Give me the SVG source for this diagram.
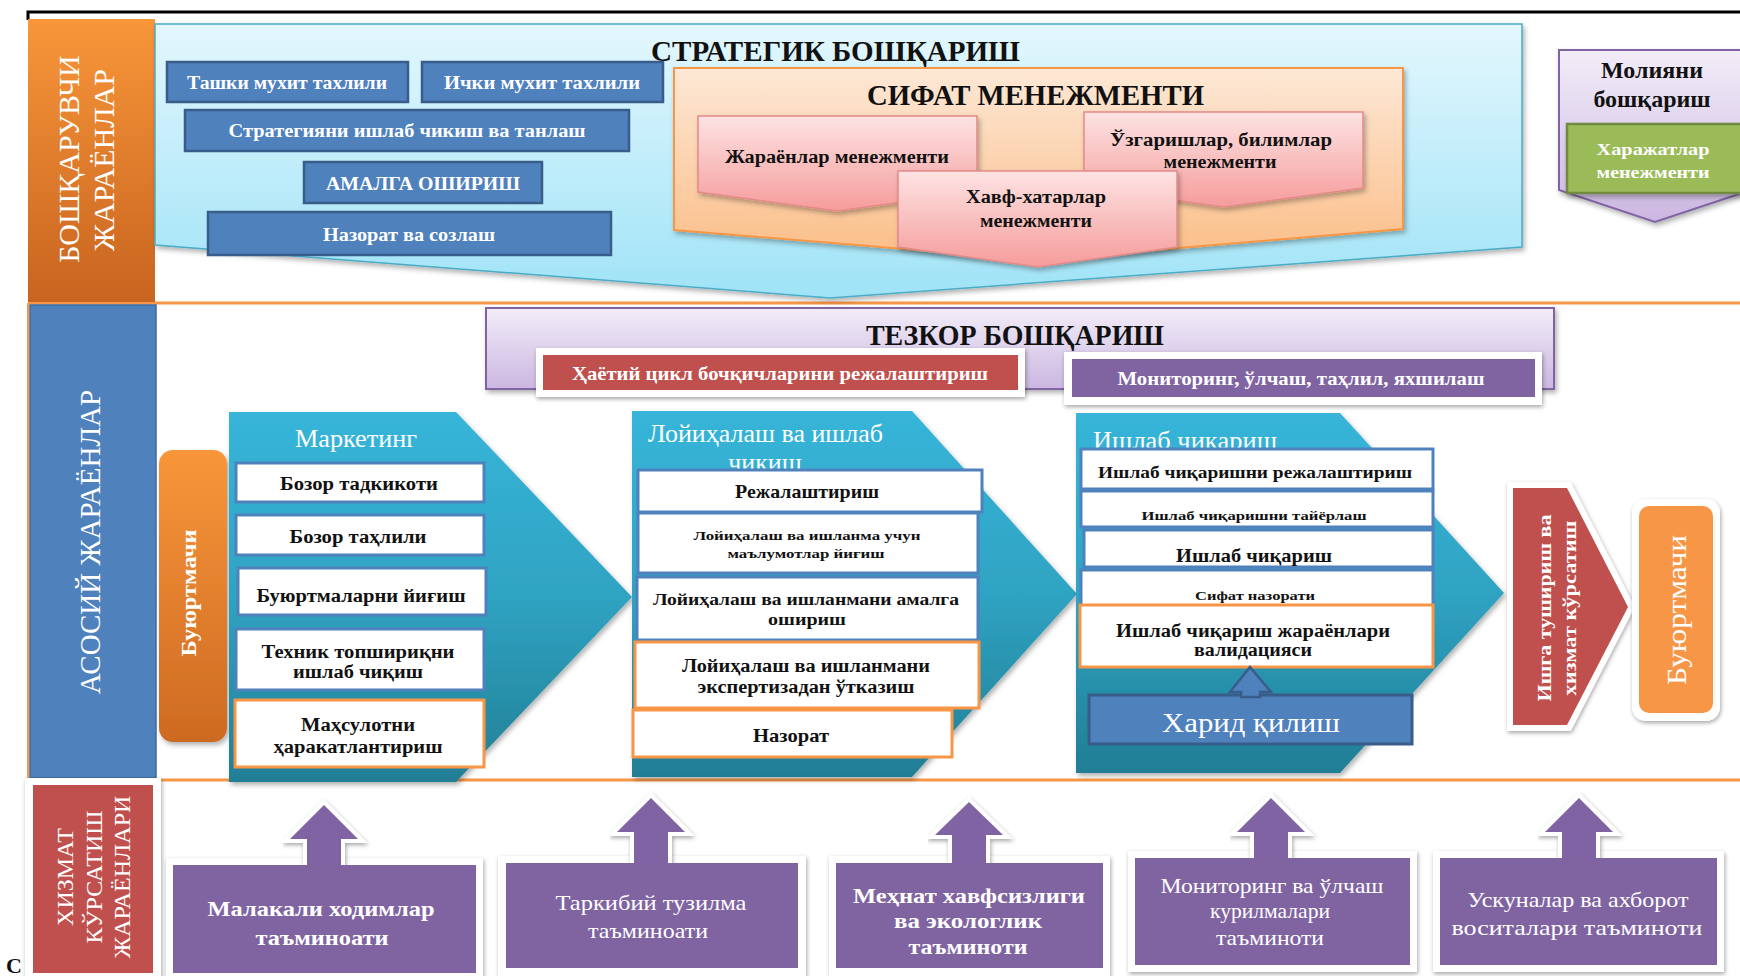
<svg xmlns="http://www.w3.org/2000/svg" width="1740" height="976" viewBox="0 0 1740 976">
  <defs>
    <linearGradient id="gCyan" x1="0" y1="0" x2="0" y2="1">
      <stop offset="0" stop-color="#e4f7fd"/>
      <stop offset="1" stop-color="#9fe3f7"/>
    </linearGradient>
    <linearGradient id="gSifat" x1="0" y1="0" x2="0" y2="1">
      <stop offset="0" stop-color="#fde8d6"/>
      <stop offset="1" stop-color="#fbbd87"/>
    </linearGradient>
    <linearGradient id="gPink" x1="0" y1="0" x2="0" y2="1">
      <stop offset="0" stop-color="#fde3e3"/>
      <stop offset="1" stop-color="#f59c9b"/>
    </linearGradient>
    <linearGradient id="gTeal" x1="0" y1="0" x2="0" y2="1">
      <stop offset="0" stop-color="#37b5d9"/>
      <stop offset="0.5" stop-color="#2fa3c2"/>
      <stop offset="1" stop-color="#227e95"/>
    </linearGradient>
    <linearGradient id="gLav" x1="0" y1="0" x2="0" y2="1">
      <stop offset="0" stop-color="#f2edf8"/>
      <stop offset="1" stop-color="#cbb6e1"/>
    </linearGradient>
    <linearGradient id="gOrBand" x1="0" y1="0" x2="0" y2="1">
      <stop offset="0" stop-color="#f8963a"/>
      <stop offset="1" stop-color="#c8641f"/>
    </linearGradient>
    <linearGradient id="gBuy" x1="0" y1="0" x2="0" y2="1">
      <stop offset="0" stop-color="#f8963a"/>
      <stop offset="1" stop-color="#cd6a22"/>
    </linearGradient>
    <filter id="sh" x="-10%" y="-10%" width="130%" height="140%">
      <feDropShadow dx="2" dy="3" stdDeviation="2.5" flood-color="#000" flood-opacity="0.3"/>
    </filter>
    <filter id="glow" x="-10%" y="-10%" width="130%" height="140%">
      <feDropShadow dx="1" dy="2" stdDeviation="2" flood-color="#000" flood-opacity="0.35"/>
    </filter>
  </defs>
  <style>
    text { font-family: "Liberation Serif", "Times New Roman", "DejaVu Serif", serif; }
    .b { font-weight: bold; }
    .w { fill: #ffffff; }
    .k { fill: #111111; }
    .c { text-anchor: middle; }
    .bluebox { fill: #4f81bd; stroke: #385d8a; stroke-width: 2.5; }
    .wbox { fill: #ffffff; stroke: #4f81bd; stroke-width: 3; }
    .obox { fill: #ffffff; stroke: #f79646; stroke-width: 3; }
    .pink { fill: url(#gPink); stroke: #e28a88; stroke-width: 1.5; }
    .teal { fill: url(#gTeal); }
    .purple { fill: #8064a2; }
    .frame { fill: #ffffff; }
    .sep { stroke: #f79646; stroke-width: 3; fill: none; }
    .up { fill: #8064a2; stroke: #ffffff; stroke-width: 8; stroke-linejoin: miter; paint-order: stroke; }
  </style>

  <rect x="0" y="0" width="1740" height="976" fill="#ffffff"/>

  <!-- outer frame lines -->
  <g id="frame-lines">
    <path d="M28,20 V12 H1740" fill="none" stroke="#000" stroke-width="3"/>
    <path class="sep" d="M28,303 H1740"/>
    <path class="sep" d="M28,780 H1740"/>
    <path d="M28,303 V780" stroke="#f79646" stroke-width="2" fill="none"/>
  </g>

  <!-- left column: process group labels -->
  <g id="band-management">
    <rect x="28" y="19" width="127" height="283" fill="url(#gOrBand)"/>
    <text class="w c" font-size="30" transform="translate(79,159) rotate(-90)">БОШҚАРУВЧИ</text>
    <text class="w c" font-size="30" transform="translate(114,160) rotate(-90)">ЖАРАЁНЛАР</text>
  </g>
  <g id="band-core">
    <rect x="30" y="305" width="126" height="473" fill="#4f81bd" stroke="#3c6aa0" stroke-width="1.5"/>
    <text class="w c" font-size="29" transform="translate(100,542) rotate(-90)">АСОСИЙ ЖАРАЁНЛАР</text>
  </g>
  <g id="band-service">
    <rect class="frame" x="25" y="778" width="136" height="204" filter="url(#glow)"/>
    <rect x="33" y="785" width="120" height="188" fill="#c0504d"/>
    <text class="w c" font-size="24" transform="translate(73,877) rotate(-90)">ХИЗМАТ</text>
    <text class="w c" font-size="24" transform="translate(102,877) rotate(-90)">КЎРСАТИШ</text>
    <text class="w c" font-size="24" transform="translate(130,877) rotate(-90)">ЖАРАЁНЛАРИ</text>
  </g>

  <!-- strategic management -->
  <g id="strategic">
    <polygon points="155,24 1522,24 1522,247 830,298 155,245" fill="url(#gCyan)" stroke="#4bacc6" stroke-width="1.5" filter="url(#sh)"/>
    <text class="b k" x="651" y="61" font-size="29" textLength="369" lengthAdjust="spacingAndGlyphs">СТРАТЕГИК  БОШҚАРИШ</text>
  </g>
  <g id="external-analysis">
    <rect class="bluebox" x="167" y="62" width="241" height="40"/>
    <text class="b w c" x="287" y="89" font-size="18" textLength="200" lengthAdjust="spacingAndGlyphs">Ташки мухит тахлили</text>
  </g>
  <g id="internal-analysis">
    <rect class="bluebox" x="422" y="62" width="241" height="40"/>
    <text class="b w c" x="542" y="89" font-size="18" textLength="196" lengthAdjust="spacingAndGlyphs">Ички мухит тахлили</text>
  </g>
  <g id="strategy-choice">
    <rect class="bluebox" x="185" y="110" width="444" height="41"/>
    <text class="b w c" x="407" y="137" font-size="19" textLength="357" lengthAdjust="spacingAndGlyphs">Стратегияни ишлаб чикиш ва танлаш</text>
  </g>
  <g id="implementation">
    <rect class="bluebox" x="304" y="162" width="238" height="41"/>
    <text class="b w c" x="423" y="190" font-size="19" textLength="194" lengthAdjust="spacingAndGlyphs">АМАЛГА ОШИРИШ</text>
  </g>
  <g id="control-adjust">
    <rect class="bluebox" x="208" y="212" width="403" height="43"/>
    <text class="b w c" x="409" y="241" font-size="19" textLength="172" lengthAdjust="spacingAndGlyphs">Назорат ва созлаш</text>
  </g>

  <!-- quality management -->
  <g id="quality">
    <polygon points="674,68 1403,68 1403,229 1038,260 674,230" fill="url(#gSifat)" stroke="#f79646" stroke-width="2" filter="url(#sh)"/>
    <text class="b k" x="867" y="105" font-size="29" textLength="337" lengthAdjust="spacingAndGlyphs">СИФАТ  МЕНЕЖМЕНТИ</text>
  </g>
  <g id="process-mgmt">
    <polygon class="pink" points="698,116 977,116 977,192 837,211 698,192" filter="url(#sh)"/>
    <text class="b k c" x="837" y="163" font-size="18" textLength="224" lengthAdjust="spacingAndGlyphs">Жараёнлар менежменти</text>
  </g>
  <g id="change-mgmt">
    <polygon class="pink" points="1084,112 1363,112 1363,188 1224,207 1084,188" filter="url(#sh)"/>
    <text class="b k c" x="1221" y="146" font-size="18" textLength="222" lengthAdjust="spacingAndGlyphs">Ўзгаришлар, билимлар</text>
    <text class="b k c" x="1220" y="168" font-size="18" textLength="113" lengthAdjust="spacingAndGlyphs">менежменти</text>
  </g>
  <g id="risk-mgmt">
    <polygon class="pink" points="898,171 1177,171 1177,247 1038,267 898,247" filter="url(#sh)"/>
    <text class="b k c" x="1036" y="203" font-size="18" textLength="140" lengthAdjust="spacingAndGlyphs">Хавф-хатарлар</text>
    <text class="b k c" x="1036" y="227" font-size="18" textLength="112" lengthAdjust="spacingAndGlyphs">менежменти</text>
  </g>

  <!-- finance management -->
  <g id="finance">
    <polygon points="1559,50 1751,50 1751,190 1655,222 1559,190" fill="url(#gLav)" stroke="#8064a2" stroke-width="2" filter="url(#sh)"/>
    <text class="b k c" x="1652" y="78" font-size="24">Молияни</text>
    <text class="b k c" x="1652" y="107" font-size="24">бошқариш</text>
  </g>
  <g id="cost-mgmt">
    <rect x="1567" y="124" width="185" height="69" fill="#9bbb59" stroke="#71893f" stroke-width="2.5" filter="url(#sh)"/>
    <text class="b w c" x="1653" y="155" font-size="17" textLength="113" lengthAdjust="spacingAndGlyphs">Харажатлар</text>
    <text class="b w c" x="1653" y="178" font-size="17" textLength="113" lengthAdjust="spacingAndGlyphs">менежменти</text>
  </g>

  <!-- operational management -->
  <g id="operational">
    <rect x="486" y="308" width="1068" height="81" fill="url(#gLav)" stroke="#8064a2" stroke-width="2" filter="url(#sh)"/>
    <text class="b k" x="866" y="345" font-size="29" textLength="298" lengthAdjust="spacingAndGlyphs">ТЕЗКОР  БОШҚАРИШ</text>
  </g>
  <g id="lifecycle-planning">
    <rect class="frame" x="536" y="348" width="489" height="49" filter="url(#glow)"/>
    <rect x="543" y="355" width="475" height="35" fill="#c0504d"/>
    <text class="b w c" x="780" y="380" font-size="19" textLength="416" lengthAdjust="spacingAndGlyphs">Ҳаётий цикл бочқичларини режалаштириш</text>
  </g>
  <g id="monitoring">
    <rect class="frame" x="1064" y="352" width="478" height="53" filter="url(#glow)"/>
    <rect x="1072" y="359" width="463" height="38" fill="#8064a2"/>
    <text class="b w c" x="1301" y="385" font-size="19" textLength="367" lengthAdjust="spacingAndGlyphs">Мониторинг, ўлчаш, таҳлил, яхшилаш</text>
  </g>

  <!-- customer (input) -->
  <g id="customer-in">
    <rect x="159" y="450" width="68" height="292" rx="14" fill="url(#gBuy)" filter="url(#sh)"/>
    <text class="b w c" font-size="22" textLength="127" lengthAdjust="spacingAndGlyphs" transform="translate(196,593) rotate(-90)">Буюртмачи</text>
  </g>

  <!-- marketing -->
  <g id="marketing">
    <polygon class="teal" points="229,412 456,412 632,597 456,782 229,782" filter="url(#sh)"/>
    <text class="w c" x="356" y="447" font-size="25" textLength="122" lengthAdjust="spacingAndGlyphs">Маркетинг</text>
    <rect class="wbox" x="236" y="463" width="248" height="39"/>
    <text class="b k c" x="359" y="490" font-size="18" textLength="158" lengthAdjust="spacingAndGlyphs">Бозор тадкикоти</text>
    <rect class="wbox" x="236" y="515" width="248" height="40"/>
    <text class="b k c" x="358" y="543" font-size="18" textLength="137" lengthAdjust="spacingAndGlyphs">Бозор таҳлили</text>
    <rect class="wbox" x="238" y="568" width="248" height="47"/>
    <text class="b k c" x="361" y="602" font-size="18" textLength="209" lengthAdjust="spacingAndGlyphs">Буюртмаларни йиғиш</text>
    <rect class="wbox" x="236" y="629" width="248" height="61"/>
    <text class="b k c" x="358" y="658" font-size="18" textLength="193" lengthAdjust="spacingAndGlyphs">Техник топшириқни</text>
    <text class="b k c" x="358" y="678" font-size="18" textLength="130" lengthAdjust="spacingAndGlyphs">ишлаб чиқиш</text>
    <rect class="obox" x="235" y="700" width="249" height="67"/>
    <text class="b k c" x="358" y="731" font-size="18" textLength="114" lengthAdjust="spacingAndGlyphs">Маҳсулотни</text>
    <text class="b k c" x="358" y="753" font-size="18" textLength="169" lengthAdjust="spacingAndGlyphs">ҳаракатлантириш</text>
  </g>

  <!-- design and development -->
  <g id="design">
    <polygon class="teal" points="632,411 912,411 1077,594 912,777 632,777" filter="url(#sh)"/>
    <text class="w" x="648" y="442" font-size="26" textLength="235" lengthAdjust="spacingAndGlyphs">Лойиҳалаш ва ишлаб</text>
    <text class="w c" x="765" y="471" font-size="26">чиқиш</text>
    <rect class="wbox" x="638" y="470" width="344" height="42"/>
    <text class="b k c" x="807" y="498" font-size="19" textLength="144" lengthAdjust="spacingAndGlyphs">Режалаштириш</text>
    <rect class="wbox" x="638" y="513" width="340" height="60"/>
    <text class="b k c" x="807" y="540" font-size="13" textLength="227" lengthAdjust="spacingAndGlyphs">Лойиҳалаш ва ишланма учун</text>
    <text class="b k c" x="806" y="558" font-size="13" textLength="157" lengthAdjust="spacingAndGlyphs">маълумотлар  йиғиш</text>
    <rect class="wbox" x="637" y="577" width="341" height="63"/>
    <text class="b k c" x="806" y="605" font-size="17" textLength="306" lengthAdjust="spacingAndGlyphs">Лойиҳалаш ва ишланмани амалга</text>
    <text class="b k c" x="807" y="625" font-size="17" textLength="78" lengthAdjust="spacingAndGlyphs">ошириш</text>
    <rect class="obox" x="635" y="642" width="344" height="66"/>
    <text class="b k c" x="806" y="672" font-size="18" textLength="248" lengthAdjust="spacingAndGlyphs">Лойиҳалаш ва ишланмани</text>
    <text class="b k c" x="806" y="693" font-size="18" textLength="217" lengthAdjust="spacingAndGlyphs">экспертизадан ўтказиш</text>
    <rect class="obox" x="633" y="710" width="319" height="47"/>
    <text class="b k c" x="791" y="742" font-size="19" textLength="76" lengthAdjust="spacingAndGlyphs">Назорат</text>
  </g>

  <!-- production -->
  <g id="production">
    <polygon class="teal" points="1076,413 1340,413 1504,593 1340,773 1076,773" filter="url(#sh)"/>
    <text class="w" x="1093" y="449" font-size="25" textLength="184" lengthAdjust="spacingAndGlyphs">Ишлаб чиқариш</text>
    <rect class="wbox" x="1081" y="449" width="352" height="40"/>
    <text class="b k c" x="1255" y="478" font-size="17" textLength="314" lengthAdjust="spacingAndGlyphs">Ишлаб чиқаришни режалаштириш</text>
    <rect class="wbox" x="1081" y="491" width="352" height="36"/>
    <text class="b k c" x="1254" y="520" font-size="13" textLength="225" lengthAdjust="spacingAndGlyphs">Ишлаб чиқаришни тайёрлаш</text>
    <rect class="wbox" x="1084" y="530" width="349" height="37"/>
    <text class="b k c" x="1254" y="562" font-size="19" textLength="156" lengthAdjust="spacingAndGlyphs">Ишлаб чиқариш</text>
    <rect class="wbox" x="1081" y="570" width="352" height="36"/>
    <text class="b k c" x="1255" y="600" font-size="13" textLength="120" lengthAdjust="spacingAndGlyphs">Сифат назорати</text>
    <rect class="obox" x="1080" y="605" width="353" height="62"/>
    <text class="b k c" x="1253" y="637" font-size="18" textLength="274" lengthAdjust="spacingAndGlyphs">Ишлаб чиқариш жараёнлари</text>
    <text class="b k c" x="1253" y="656" font-size="18" textLength="118" lengthAdjust="spacingAndGlyphs">валидацияси</text>
  </g>
  <g id="purchasing">
    <rect x="1089" y="695" width="323" height="49" fill="#4f81bd" stroke="#385d8a" stroke-width="3"/>
    <text class="w c" x="1251" y="732" font-size="28" textLength="178" lengthAdjust="spacingAndGlyphs">Харид қилиш</text>
  </g>

  <!-- commissioning and service -->
  <g id="commissioning">
    <polygon points="1513,488 1567,488 1628,607 1567,725 1513,725" fill="#ffffff" stroke="#ffffff" stroke-width="12" filter="url(#glow)"/>
    <polygon points="1513,488 1567,488 1628,607 1567,725 1513,725" fill="#c0504d"/>
    <text class="b w c" font-size="18" textLength="187" lengthAdjust="spacingAndGlyphs" transform="translate(1551,608) rotate(-90)">Ишга тушириш ва</text>
    <text class="b w c" font-size="18" textLength="175" lengthAdjust="spacingAndGlyphs" transform="translate(1576,608) rotate(-90)">хизмат кўрсатиш</text>
  </g>

  <!-- customer (output) -->
  <g id="customer-out">
    <rect class="frame" x="1632" y="499" width="88" height="222" rx="14" filter="url(#glow)"/>
    <rect x="1639" y="506" width="74" height="207" rx="10" fill="#f79646"/>
    <text class="w c" font-size="28" textLength="150" lengthAdjust="spacingAndGlyphs" transform="translate(1686,610) rotate(-90)">Буюртмачи</text>
  </g>

  <!-- support process boxes: frames -->
  <g id="support-frames">
    <rect class="frame" x="166" y="858" width="317" height="124" filter="url(#glow)"/>
    <rect class="frame" x="498" y="856" width="308" height="120" filter="url(#glow)"/>
    <rect class="frame" x="829" y="856" width="281" height="120" filter="url(#glow)"/>
    <rect class="frame" x="1128" y="851" width="289" height="121" filter="url(#glow)"/>
    <rect class="frame" x="1433" y="851" width="291" height="121" filter="url(#glow)"/>
  </g>

  <!-- connectors: upward arrows -->
  <g id="connectors">
    <polygon points="1250,667 1271,692 1260,692 1260,697 1241,697 1241,692 1230,692" fill="#4f81bd" stroke="#385d8a" stroke-width="2.5" stroke-linejoin="miter"/>
    <polygon class="up" filter="url(#glow)" points="324,805 358,839 341,839 341,868 307,868 307,839 290,839"/>
    <polygon class="up" filter="url(#glow)" points="651,798 685,832 668,832 668,866 634,866 634,832 617,832"/>
    <polygon class="up" filter="url(#glow)" points="969,802 1003,835 986,835 986,866 952,866 952,835 935,835"/>
    <polygon class="up" filter="url(#glow)" points="1271,798 1305,832 1288,832 1288,861 1254,861 1254,832 1237,832"/>
    <polygon class="up" filter="url(#glow)" points="1579,798 1613,832 1596,832 1596,861 1562,861 1562,832 1545,832"/>
  </g>

  <!-- support processes -->
  <g id="staff">
    <rect class="purple" x="173" y="865" width="303" height="108"/>
    <text class="b w c" x="321" y="916" font-size="22" textLength="227" lengthAdjust="spacingAndGlyphs">Малакали ходимлар</text>
    <text class="b w c" x="322" y="945" font-size="22" textLength="133" lengthAdjust="spacingAndGlyphs">таъминоати</text>
  </g>
  <g id="structure">
    <rect class="purple" x="506" y="863" width="292" height="105"/>
    <text class="w c" x="651" y="910" font-size="22" textLength="191" lengthAdjust="spacingAndGlyphs">Таркибий  тузилма</text>
    <text class="w c" x="648" y="938" font-size="22" textLength="120" lengthAdjust="spacingAndGlyphs">таъминоати</text>
  </g>
  <g id="safety">
    <rect class="purple" x="836" y="863" width="267" height="105"/>
    <text class="b w c" x="969" y="903" font-size="22" textLength="232" lengthAdjust="spacingAndGlyphs">Меҳнат хавфсизлиги</text>
    <text class="b w c" x="968" y="928" font-size="22" textLength="148" lengthAdjust="spacingAndGlyphs">ва экологлик</text>
    <text class="b w c" x="968" y="954" font-size="22" textLength="119" lengthAdjust="spacingAndGlyphs">таъминоти</text>
  </g>
  <g id="measuring">
    <rect class="purple" x="1135" y="858" width="275" height="107"/>
    <text class="w c" x="1272" y="893" font-size="21" textLength="223" lengthAdjust="spacingAndGlyphs">Мониторинг  ва ўлчаш</text>
    <text class="w c" x="1270" y="918" font-size="21" textLength="120" lengthAdjust="spacingAndGlyphs">курилмалари</text>
    <text class="w c" x="1270" y="945" font-size="21" textLength="108" lengthAdjust="spacingAndGlyphs">таъминоти</text>
  </g>
  <g id="equipment">
    <rect class="purple" x="1440" y="858" width="277" height="107"/>
    <text class="w c" x="1578" y="907" font-size="21" textLength="221" lengthAdjust="spacingAndGlyphs">Ускуналар ва ахборот</text>
    <text class="w c" x="1577" y="935" font-size="21" textLength="251" lengthAdjust="spacingAndGlyphs">воситалари таъминоти</text>
  </g>

  <text class="b k" x="6" y="973" font-size="22">С</text>
</svg>
